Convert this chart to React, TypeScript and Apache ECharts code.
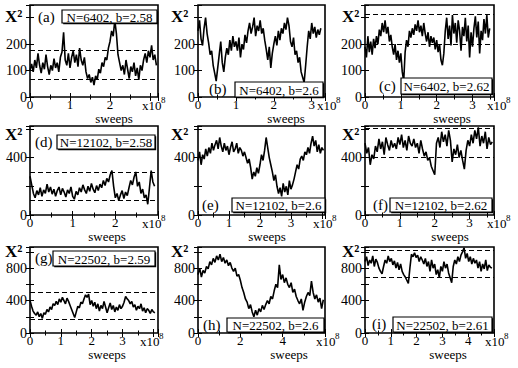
import React, { useEffect, useRef } from "react";
import * as echarts from "echarts";

// ---------------- data (chi^2 vs sweeps, x in units of 10^8) ----------------
const STEP_A = 0.04;
const CHI_A = [100, 125, 95, 140, 110, 165, 120, 90, 130, 105, 160, 115, 85, 120, 100, 145, 110, 130, 95, 150, 170,
  245, 140,
  120, 165, 110, 150, 175, 130, 160, 115, 185, 140, 120, 150, 95,
  70, 85, 55, 75, 45,
  80, 65, 105, 90, 130, 115, 150, 140, 185, 210,
  250, 230, 290, 240, 160,
  130, 100, 120, 85, 140, 105, 70, 115, 95, 130, 80, 110, 65, 120, 100,
  140, 165, 130, 175, 150, 195, 140, 160, 120];
const DASH_A = [175, 68];

const STEP_B = 0.04;
const CHI_B = [250, 290, 220, 195, 260, 300,
  240, 205, 160, 175, 120, 90, 60,
  110, 160, 210, 130, 95,
  150, 185, 160, 215, 175, 230, 190, 210,
  175, 225, 150, 200, 180, 235, 205, 250,
  280, 240, 265, 300, 230, 270, 250, 290, 240, 260,
  215, 180, 140, 190, 110, 165, 200,
  230, 195, 250, 215, 260, 240, 280, 255, 300, 270,
  210, 190, 225, 160, 175, 130, 150, 95, 75, 55,
  120, 190, 250, 220, 280, 240, 265, 225, 255, 235, 260];
const DASH_B: number[] = [];

const STEP_C = 0.04;
const CHI_C = [190, 150, 230, 170, 210, 160,
  220, 185, 230, 200,
  255, 230, 280, 245, 290,
  240, 265, 210, 235, 190,
  160, 200, 140, 175, 130, 165,
  95, 60,
  170, 215, 190, 250, 225,
  260, 235, 275, 250, 290, 245, 270, 230, 280, 240,
  210, 245, 190, 230, 205,
  225, 180, 215, 170, 200,
  140, 120, 165,
  250, 300, 220, 270, 195, 310, 240, 280, 205, 290, 250, 175, 265, 230, 300, 210, 270, 150, 245, 190,
  260, 305, 225, 285, 165, 250, 215, 295, 240, 310, 225, 260];
const DASH_C = [200, 312];

const STEP_D = 0.04;
const CHI_D = [270, 210, 150, 120, 170,
  140, 190, 130, 175, 150, 215, 160, 195,
  145, 180, 130, 170, 195, 140, 185, 160, 125, 175,
  150, 195, 130, 110, 165, 140, 190,
  160, 210, 175, 150, 200, 165, 220, 180, 155, 205, 170,
  215, 190, 240, 205, 255, 230, 280,
  310,
  200, 120, 150, 100, 140, 170, 115, 160, 135,
  190, 240, 210, 265, 300,
  200, 230, 150, 180, 120, 140, 75,
  190, 310, 230, 200];
const DASH_D = [100, 300];

const STEP_E = 0.05;
const CHI_E = [380, 440, 350, 420, 390, 460, 410,
  470, 430, 500, 450, 490, 520, 460, 540, 480, 440,
  500, 450, 480, 420, 470, 510, 440, 460, 500, 430, 470, 450, 410,
  440, 400, 360, 390, 330,
  250, 300, 270, 330, 290, 350,
  420, 380, 450, 540, 470, 400,
  350, 300, 240, 280, 200, 150,
  190, 130, 220, 160, 200, 140, 240, 180, 210, 250,
  300, 350, 320, 390, 410, 380,
  440, 420, 470, 430, 500, 550, 480,
  520, 440, 490, 430, 470, 450];
const DASH_E: number[] = [];

const STEP_F = 0.05;
const CHI_F = [500, 430, 470, 350, 420, 390,
  480, 440, 530, 460, 510, 420, 540, 490, 450, 520, 470, 500,
  460, 540, 490, 560, 470, 520, 450, 550, 500, 480, 530, 470,
  500, 430, 520, 460, 410,
  440, 380, 400, 340, 310, 280,
  500, 540, 470, 580, 510, 560, 480, 590, 520,
  370, 460, 420, 490, 400, 450, 380,
  320,
  450, 520, 480, 560, 500, 590, 530, 610, 480, 550, 500, 580, 460, 540, 490, 510];
const DASH_F = [400, 605];

const STEP_G = 0.05;
const CHI_G = [400, 330, 270, 240,
  220, 260, 200, 240, 180,
  250, 230, 290, 260,
  320, 290, 360, 340,
  390, 350, 420, 380, 440, 400, 360, 430, 390, 340,
  290, 240, 190,
  260, 330, 310, 380, 360, 420,
  470, 440, 480,
  350, 400, 330, 380, 300, 360,
  270, 340, 300, 390, 320, 250, 310, 370, 290, 340, 260, 320, 280, 350, 300, 330,
  380, 450, 420, 400,
  360, 390, 320, 350, 280, 330, 300, 360, 270, 310, 250, 300, 280, 240, 290, 260, 250];
const DASH_G = [170, 500];

const STEP_H = 0.08;
const CHI_H = [720, 800, 690, 770,
  740, 820, 790, 880, 840, 920,
  870, 950, 900, 970, 880, 930, 860,
  900, 830, 870, 800,
  760, 800, 700, 720, 650,
  560, 500, 420, 380,
  300, 350, 260,
  200, 280, 220,
  300, 260, 340, 290, 350,
  400, 360, 450, 420,
  520, 600, 560, 840, 660,
  720, 620, 680, 600,
  560, 620, 500, 540, 450,
  400, 360, 420, 280,
  380, 450, 500, 460, 640,
  500, 420, 470, 380, 430, 300, 410];
const DASH_H: number[] = [];

const STEP_I = 0.06;
const CHI_I = [880, 940, 830, 900, 860, 950, 820, 910, 870, 800,
  760, 730, 820,
  900, 860, 950, 880, 920,
  840, 890, 800, 870, 780, 850, 760,
  720, 690, 650, 610,
  800, 970, 940,
  990, 930, 960, 880, 940, 900, 850,
  920, 820, 880, 760, 900, 800, 850,
  720, 780, 680,
  820, 760, 880, 800, 850, 740,
  680, 620,
  820, 900, 850, 940, 880,
  960, 1000, 1050, 920,
  980, 880, 940, 850, 920, 860, 900,
  800, 880, 760, 850, 790, 900, 770, 840, 810, 800];
const DASH_I = [682, 1023];

const TAGS = ["(a)", "(b)", "(c)", "(d)", "(e)", "(f)", "(g)", "(h)", "(i)"];
const TITLES = ["N=6402, b=2.58", "N=6402, b=2.6", "N=6402, b=2.62",
  "N=12102, b=2.58", "N=12102, b=2.6", "N=12102, b=2.62",
  "N=22502, b=2.59", "N=22502, b=2.6", "N=22502, b=2.61"];
const X_MAX = [3.2, 3.35, 3.6, 3.0, 4.1, 3.7, 4.15, 6.0, 5.0];
const X_INTERVAL = [1, 1, 1, 1, 1, 1, 1, 2, 1];
const X_LABEL_MAX = [2, 3, 3, 2, 3, 3, 3, 4, 4];
const ROW_Y_MAX = [348, 620, 1060];
const ROW_Y_INTERVAL = [100, 200, 200];
const ROW_Y_LABELS = [[0, 100, 200], [0, 400], [0, 400, 800]];
const X_NAME = "sweeps";
const Y_NAME = "X²";

const SERIES = [
  { step: STEP_A, values: CHI_A, dashed: DASH_A },
  { step: STEP_B, values: CHI_B, dashed: DASH_B },
  { step: STEP_C, values: CHI_C, dashed: DASH_C },
  { step: STEP_D, values: CHI_D, dashed: DASH_D },
  { step: STEP_E, values: CHI_E, dashed: DASH_E },
  { step: STEP_F, values: CHI_F, dashed: DASH_F },
  { step: STEP_G, values: CHI_G, dashed: DASH_G },
  { step: STEP_H, values: CHI_H, dashed: DASH_H },
  { step: STEP_I, values: CHI_I, dashed: DASH_I },
];

// ---------------- layout ----------------
const COLS = [{ left: 30, width: 128 }, { left: 198, width: 127 }, { left: 365, width: 129 }];
const ROWS = [{ top: 5, height: 92 }, { top: 126, height: 89 }, { top: 247, height: 86 }];
const YNAME_X = [5, 171, 342];
const YNAME_Y = [8, 126, 243];
const TAG_POS = [[38, 17], [209, 89], [379, 86], [35, 142], [202, 205], [373, 205], [35, 258], [203, 325], [372, 324]];
const BOX_POS = [[62, 10, 95, 13], [235, 82, 88, 15], [401, 78, 91, 16], [57, 135, 98, 14], [232, 198, 93, 14],
  [390, 198, 102, 14], [53, 251, 102, 15], [227, 318, 97, 14], [393, 317, 99, 15]];
const EXP_X = [142, 317, 487, 142, 313, 487, 140, 316, 485];
const SWEEPS_X = [114, 286, 452, 107, 267, 450, 107, 289, 448];

const FONT = "Liberation Serif";

function txt(text: string, x: number, y: number, size: number, align: string, vAlign: string, z = 10, bold = false) {
  return {
    type: "text", x, y, z,
    style: { text, fontFamily: FONT, fontSize: size, fontWeight: bold ? "bold" : "normal", fill: "#000", align, verticalAlign: vAlign },
  };
}

function buildOption() {
  const grid: any[] = [];
  const xAxis: any[] = [];
  const yAxis: any[] = [];
  const series: any[] = [];
  const graphic: any[] = [];

  SERIES.forEach((s, k) => {
    const r = Math.floor(k / 3);
    const c = k % 3;
    const col = COLS[c];
    const row = ROWS[r];
    const bottom = row.top + row.height;
    grid.push({
      left: col.left, top: row.top, width: col.width, height: row.height,
      show: true, borderColor: "#000", borderWidth: 1.6, backgroundColor: "transparent",
    });
    const tick = { inside: true, length: 4, lineStyle: { color: "#000", width: 1 } };
    const minor = { show: true, splitNumber: 2, length: 2.5, lineStyle: { color: "#000", width: 1 } };
    const xLabMax = X_LABEL_MAX[k];
    const xInt = X_INTERVAL[k];
    const common = { type: "value", gridIndex: k, min: 0, max: X_MAX[k], interval: xInt,
      axisLine: { show: false }, splitLine: { show: false }, minorSplitLine: { show: false },
      axisTick: tick, minorTick: minor };
    xAxis.push({ ...common, position: "bottom",
      axisLabel: { margin: 1, fontSize: 13, lineHeight: 13, fontFamily: FONT, color: "#000",
        formatter: (v: number) => (Math.abs(v - Math.round(v)) < 1e-6 && v <= xLabMax + 1e-6 && Math.round(v) % xInt === 0 ? String(Math.round(v)) : "") } });
    xAxis.push({ ...common, position: "top", axisLabel: { show: false } });
    const labels = ROW_Y_LABELS[r];
    const yCommon = { type: "value", gridIndex: k, min: 0, max: ROW_Y_MAX[r], interval: ROW_Y_INTERVAL[r],
      axisLine: { show: false }, splitLine: { show: false }, minorSplitLine: { show: false },
      axisTick: tick, minorTick: { ...minor, show: false } };
    yAxis.push({ ...yCommon, position: "left",
      axisLabel: { margin: 3, fontSize: 14, fontFamily: FONT, color: "#000",
        formatter: (v: number) => (labels.indexOf(Math.round(v)) >= 0 && Math.abs(v - Math.round(v)) < 1e-6 ? String(Math.round(v)) : "") } });
    yAxis.push({ ...yCommon, position: "right", axisLabel: { show: false } });

    series.push({
      type: "line", xAxisIndex: 2 * k, yAxisIndex: 2 * k, showSymbol: false, clip: true,
      data: s.values.map((v, i) => [Number((i * s.step).toFixed(4)), v]),
      lineStyle: { color: "#000", width: 1.6 }, itemStyle: { color: "#000" },
      markLine: s.dashed.length ? {
        silent: true, symbol: ["none", "none"], label: { show: false },
        lineStyle: { color: "#000", type: [5, 3], width: 1.2 },
        data: s.dashed.map((d) => ({ yAxis: d })),
      } : undefined,
    });

    graphic.push(txt(Y_NAME, YNAME_X[c], YNAME_Y[r], 17, "left", "top", 10, true));
    graphic.push(txt(TAGS[k], TAG_POS[k][0], TAG_POS[k][1], 15, "left", "middle"));
    const [bx, by, bw, bh] = BOX_POS[k];
    graphic.push({ type: "rect", z: 10, shape: { x: bx + 1.2, y: by + 1.2, width: bw, height: bh }, style: { fill: "#000" } });
    graphic.push({ type: "rect", z: 11, shape: { x: bx, y: by, width: bw, height: bh }, style: { fill: "#fff", stroke: "#000", lineWidth: 1.2 } });
    graphic.push(txt(TITLES[k], bx + bw / 2, by + bh / 2 + 0.5, 13, "center", "middle", 12));
    graphic.push(txt("x10", EXP_X[k], bottom + 8, 13, "left", "middle"));
    graphic.push(txt("8", EXP_X[k] + 19, bottom + 3, 9, "left", "middle"));
    graphic.push(txt(X_NAME, SWEEPS_X[k], bottom + 21, 13, "center", "middle"));
  });

  return { animation: false, backgroundColor: "#fff", grid, xAxis, yAxis, series, graphic };
}

export default function App() {
  const ref = useRef<HTMLDivElement>(null);
  useEffect(() => {
    if (!ref.current) return;
    const chart = echarts.init(ref.current, undefined, { renderer: "svg" });
    chart.setOption(buildOption() as any);
    return () => chart.dispose();
  }, []);
  return <div ref={ref} style={{ position: "absolute", left: 0, top: 0, width: 518, height: 368 }} />;
}
